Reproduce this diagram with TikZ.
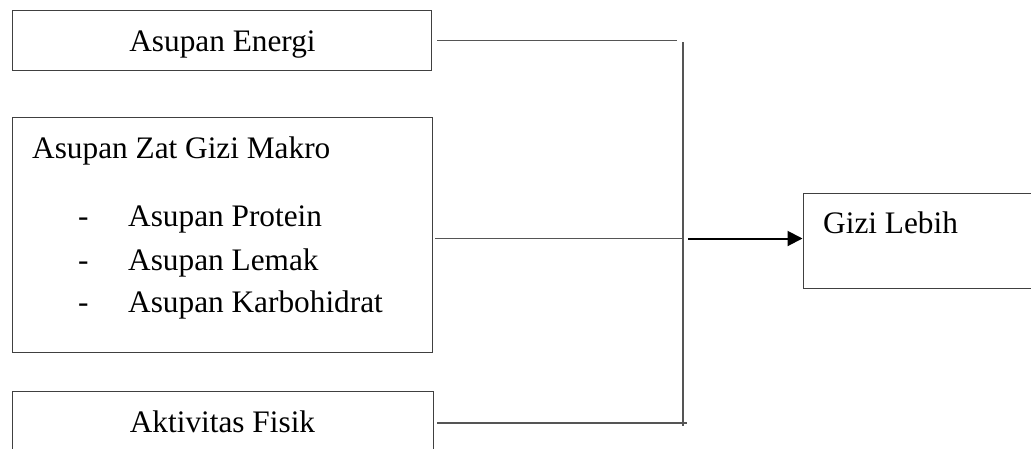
\documentclass[tikz,border=0pt]{standalone}
\usepackage{fontspec}
\setmainfont{Liberation Serif}
\usetikzlibrary{arrows.meta}
\definecolor{boxgray}{HTML}{404040}
\definecolor{linegray}{HTML}{555555}
\tikzset{
  boxshape/.style={draw=boxgray, line width=1pt, inner sep=0pt},
  lbl/.style={inner sep=0pt, font=\fontsize{31.3}{37}\selectfont},
  conn/.style={draw=linegray, line width=1.3pt},
  arr/.style={draw=black, line width=2pt, -{Triangle[length=15pt,width=15pt]}}
}
\begin{document}
\begin{tikzpicture}[x=1pt,y=-1pt]
\useasboundingbox (0,0) rectangle (1031,448);
% boxes
\node[boxshape, minimum width=418.5pt, minimum height=59.5pt] (energi) at (221.75,40.25) {};
\node[boxshape, minimum width=420pt, minimum height=235pt] (makro) at (222.5,234.5) {};
\node[boxshape, minimum width=420.5pt, minimum height=79pt] (fisik) at (222.75,430.5) {};
\node[boxshape, minimum width=250pt, minimum height=95pt] (gizi) at (928,240.5) {};
% texts
\node[lbl, anchor=base] (tEnergi) at (222.5,51) {Asupan Energi};
\node[lbl, anchor=base west] (tMakro) at (32,158) {Asupan Zat Gizi Makro};
\node[lbl, anchor=base west] (d1) at (78,226) {-};
\node[lbl, anchor=base west] (d2) at (78,270) {-};
\node[lbl, anchor=base west] (d3) at (78,312) {-};
\node[lbl, anchor=base west] (tProt) at (128,226) {Asupan Protein};
\node[lbl, anchor=base west] (tLem) at (128,270) {Asupan Lemak};
\node[lbl, anchor=base west] (tKarb) at (128,312) {Asupan Karbohidrat};
\node[lbl, anchor=base] (tFisik) at (222.5,432) {Aktivitas Fisik};
\node[lbl, anchor=base west] (tGizi) at (823,233) {Gizi Lebih};
% connector points
\coordinate (s1) at (437,40.7);
\coordinate (e1) at (677,40.7);
\coordinate (s2) at (435,238.5);
\coordinate (e2) at (682,238.5);
\coordinate (s3) at (437,423);
\coordinate (e3) at (687,423);
\coordinate (vtop) at (683,42);
\coordinate (vbot) at (683,426);
\coordinate (as) at (688,238.5);
% connectors
\draw[conn] (s1) -- (e1);
\draw[conn] (s2) -- (e2);
\draw[conn] (s3) -- (e3);
\draw[conn] (vtop) -- (vbot);
\draw[arr] (as) -- (gizi.west |- as);
\end{tikzpicture}
\end{document}
